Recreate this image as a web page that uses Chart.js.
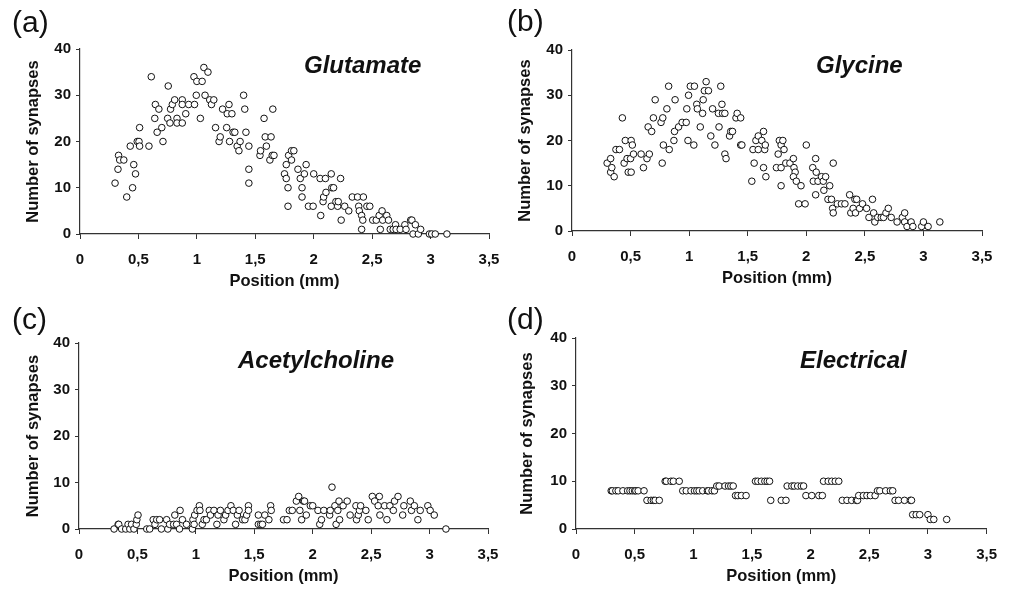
<!DOCTYPE html>
<html lang="en">
<head>
  <meta charset="utf-8">
  <title>Synapse counts along the cord</title>
  <script src="https://cdn.jsdelivr.net/npm/chart.js"></script>
  <style>
    body { margin: 0; background: #fff; }
    #wrap { position: relative; width: 1009px; height: 590px; }
    #wrap canvas { position: absolute; left: 0; top: 0; }
  </style>
</head>
<body>
<div id="wrap">
  <canvas id="chartA" width="1009" height="590"></canvas>
  <canvas id="chartB" width="1009" height="590"></canvas>
  <canvas id="chartC" width="1009" height="590"></canvas>
  <canvas id="chartD" width="1009" height="590"></canvas>
</div>

<script>
  // x = position (mm), y = number of synapses
  const glutamateX = [0.30,0.33,0.325,0.34,0.375,0.40,0.43,0.45,0.46,0.475,
    0.49,0.505,0.51,0.51,0.59,0.61,0.64,0.645,0.66,0.675,
    0.70,0.71,0.755,0.75,0.77,0.775,0.79,0.81,0.83,0.83,
    0.875,0.875,0.875,0.905,0.93,0.975,0.98,0.995,1.0,1.03,
    1.045,1.06,1.07,1.095,1.11,1.125,1.145,1.16,1.19,1.20,
    1.22,1.255,1.26,1.275,1.28,1.30,1.31,1.325,1.345,1.36,
    1.37,1.40,1.41,1.42,1.445,1.445,1.445,1.54,1.545,1.575,
    1.585,1.595,1.625,1.635,1.645,1.65,1.66,1.75,1.765,1.765,
    1.78,1.78,1.785,1.81,1.81,1.83,1.865,1.885,1.90,1.90,
    1.92,1.935,1.955,1.995,2.0,2.055,2.06,2.08,2.085,2.10,
    2.105,2.15,2.15,2.155,2.17,2.19,2.205,2.21,2.23,2.235,
    2.265,2.30,2.33,2.375,2.385,2.39,2.41,2.42,2.41,2.425,
    2.455,2.48,2.505,2.535,2.56,2.57,2.585,2.59,2.625,2.64,
    2.655,2.68,2.70,2.705,2.74,2.78,2.79,2.83,2.84,2.85,
    2.87,2.895,2.915,2.99,3.01,3.04,3.14];
  const glutamateY = [11,17,14,16,16,8,19,10,15,13,
    20,20,23,19,19,34,25,28,22,27,
    23,20,32,25,24,27,28,29,25,24,
    29,28,24,26,28,34,28,30,33,25,
    33,36,30,35,29,28,29,23,20,21,
    27,23,26,28,20,26,22,22,19,18,
    20,30,27,22,19,14,11,17,18,25,
    21,19,16,21,17,27,17,13,12,15,
    10,6,17,18,16,18,14,12,10,8,
    13,15,6,6,13,12,4,7,8,12,
    9,13,6,10,10,7,6,7,12,3,
    6,5,8,8,6,5,4,3,1,8,
    6,6,3,3,4,1,5,3,4,3,
    1,1,2,1,1,2,1,3,3,0,
    2,0,1,0,0,0,0];

  const glycineX = [0.30,0.33,0.33,0.34,0.36,0.375,0.405,0.43,0.445,0.455,
    0.47,0.48,0.50,0.505,0.505,0.515,0.525,0.59,0.61,0.64,
    0.65,0.66,0.68,0.695,0.71,0.76,0.77,0.775,0.78,0.81,
    0.825,0.83,0.87,0.875,0.88,0.91,0.94,0.975,0.98,0.99,
    0.995,1.01,1.04,1.045,1.065,1.07,1.095,1.115,1.12,1.13,
    1.145,1.165,1.185,1.20,1.22,1.25,1.255,1.27,1.28,1.285,
    1.305,1.315,1.305,1.345,1.355,1.37,1.40,1.41,1.44,1.44,
    1.45,1.535,1.545,1.555,1.57,1.59,1.59,1.62,1.635,1.635,
    1.645,1.65,1.655,1.745,1.76,1.77,1.785,1.785,1.785,1.80,
    1.81,1.825,1.86,1.89,1.895,1.905,1.89,1.915,1.935,1.955,
    1.99,2.0,2.055,2.06,2.08,2.085,2.08,2.10,2.13,2.145,
    2.15,2.165,2.185,2.20,2.215,2.225,2.23,2.23,2.265,2.30,
    2.33,2.37,2.38,2.40,2.415,2.42,2.43,2.455,2.48,2.515,
    2.535,2.565,2.575,2.585,2.61,2.64,2.66,2.68,2.70,2.725,
    2.775,2.82,2.84,2.84,2.86,2.895,2.91,2.985,3.0,3.04,
    3.14];
  const glycineY = [15,16,13,14,12,18,18,25,15,20,
    16,13,16,20,13,19,17,17,14,16,
    23,17,22,25,29,24,15,25,19,27,
    32,18,20,22,29,23,24,24,27,20,
    30,32,19,32,28,27,23,26,29,31,
    33,31,21,27,19,26,23,32,28,26,
    17,16,26,21,22,22,25,26,25,19,
    19,11,18,15,20,21,18,20,22,14,
    18,19,12,14,17,20,19,14,10,20,
    18,15,15,16,14,13,12,11,6,10,
    6,19,14,11,16,13,8,11,12,11,
    9,12,7,10,7,5,15,4,6,6,
    6,8,4,5,7,4,7,5,6,5,
    3,7,4,2,3,3,3,4,5,3,
    2,3,4,2,1,2,1,1,2,1,
    2];

  const acetylcholineX = [0.30,0.335,0.34,0.365,0.40,0.42,0.435,0.45,0.47,0.49,
    0.495,0.505,0.58,0.605,0.635,0.65,0.665,0.69,0.705,0.75,
    0.76,0.775,0.81,0.82,0.835,0.86,0.865,0.885,0.92,0.97,
    0.975,0.985,0.99,1.01,1.03,1.035,1.055,1.07,1.09,1.115,
    1.125,1.155,1.18,1.19,1.21,1.24,1.255,1.275,1.30,1.32,
    1.34,1.355,1.37,1.40,1.42,1.435,1.45,1.45,1.535,1.535,
    1.555,1.57,1.59,1.625,1.64,1.645,1.75,1.78,1.80,1.825,
    1.86,1.88,1.89,1.905,1.92,1.93,1.945,1.98,2.0,2.045,
    2.06,2.075,2.095,2.145,2.15,2.165,2.19,2.20,2.215,2.225,
    2.23,2.26,2.295,2.32,2.37,2.375,2.39,2.40,2.41,2.455,
    2.475,2.51,2.53,2.56,2.57,2.575,2.615,2.635,2.66,2.69,
    2.70,2.73,2.77,2.78,2.835,2.845,2.87,2.90,2.92,2.985,
    3.005,3.04,3.14];
  const acetylcholineY = [0,1,1,0,0,1,0,1,0,1,
    2,3,0,0,2,1,2,2,0,2,
    0,1,1,3,1,0,4,2,1,0,
    2,1,3,4,5,4,1,2,2,4,
    3,4,1,3,4,2,3,4,5,4,
    1,3,4,2,2,3,5,4,3,1,
    1,1,3,2,5,4,2,2,4,4,
    6,7,4,2,6,6,3,5,5,4,
    1,2,4,3,4,9,5,1,4,6,
    2,5,6,3,5,2,3,4,5,4,
    2,7,6,5,7,3,5,2,5,4,
    6,7,3,5,6,4,5,2,4,5,
    4,3,0];

  const electricalX = [0.30,0.31,0.34,0.36,0.40,0.44,0.46,0.48,0.50,0.51,0.53,0.58,
    0.605,0.64,0.66,0.675,0.71,
    0.76,0.77,0.81,0.83,0.88,
    0.91,0.94,0.98,1.01,1.03,1.05,1.08,1.12,1.13,1.16,1.18,
    1.20,1.22,1.27,1.30,1.32,1.34,
    1.36,1.38,1.41,1.45,
    1.53,1.55,1.58,1.61,1.63,1.65,
    1.66,1.75,1.79,
    1.80,1.84,1.86,1.89,1.92,1.94,
    1.96,2.01,2.07,2.10,
    2.11,2.15,2.18,2.21,2.24,
    2.27,2.31,2.35,2.39,2.40,
    2.41,2.45,2.48,2.51,2.55,
    2.57,2.59,2.64,2.68,2.70,
    2.72,2.75,2.80,2.85,2.86,
    2.87,2.90,2.93,3.00,
    3.02,3.05,3.16];
  const electricalY = [8,8,8,8,8,8,8,8,8,8,8,8,
    6,6,6,6,6,
    10,10,10,10,10,
    8,8,8,8,8,8,8,8,8,8,8,
    9,9,9,9,9,9,
    7,7,7,7,
    10,10,10,10,10,10,
    6,6,6,
    9,9,9,9,9,9,
    7,7,7,7,
    10,10,10,10,10,
    6,6,6,6,6,
    7,7,7,7,7,
    8,8,8,8,8,
    6,6,6,6,6,
    3,3,3,3,
    2,2,2];

  const xTickLabels = ['0', '0,5', '1', '1,5', '2', '2,5', '3', '3,5'];
  const yTickLabels = ['0', '10', '20', '30', '40'];

  const FONT = '"Liberation Sans", Arial, Helvetica, sans-serif';
  const INK = '#111';
  const AXIS = '#333';
  Chart.defaults.font.family = FONT;
  Chart.defaults.color = INK;

  // draws the panel letter and the transmitter name
  const panelText = {
    id: 'panelText',
    afterDraw(chart, args, opts) {
      const ctx = chart.ctx;
      ctx.save();
      ctx.fillStyle = INK;
      ctx.textBaseline = 'alphabetic';
      ctx.textAlign = 'left';
      ctx.font = '30px ' + FONT;
      ctx.fillText(opts.letter, opts.letterX, opts.letterY);
      ctx.font = 'italic bold 24px ' + FONT;
      ctx.fillText(opts.name, opts.nameX, opts.nameY);
      ctx.restore();
    }
  };

  function makePanel(id, xs, ys, area, text) {
    const yW = 60, xH = 57;
    const titleSize = 16.5;
    new Chart(document.getElementById(id), {
      type: 'scatter',
      data: {
        datasets: [{
          data: xs.map((x, i) => ({ x: x, y: ys[i] })),
          pointRadius: 3.3,
          pointHoverRadius: 3.3,
          pointBorderWidth: 1,
          borderColor: '#111',
          backgroundColor: '#fff',
          clip: false
        }]
      },
      options: {
        responsive: false,
        animation: false,
        events: [],
        layout: {
          padding: {
            left: area.left - yW,
            right: 1009 - area.right,
            top: area.top,
            bottom: 590 - area.bottom - xH
          }
        },
        plugins: {
          legend: { display: false },
          tooltip: { enabled: false },
          panelText: text
        },
        scales: {
          x: {
            type: 'linear',
            min: 0,
            max: 3.5,
            afterFit(s) { s.height = xH; },
            ticks: {
              stepSize: 0.5,
              padding: 12,
              maxRotation: 0,
              font: { size: 15, weight: 'bold' },
              callback: (v, i) => xTickLabels[i]
            },
            grid: { drawOnChartArea: false, tickLength: 5, color: AXIS },
            border: { color: AXIS, width: 1.2 },
            title: {
              display: true,
              text: 'Position (mm)',
              font: { size: titleSize, weight: 'bold' },
              padding: { top: 0, bottom: 0 }
            }
          },
          y: {
            min: 0,
            max: 40,
            afterFit(s) { s.width = yW; },
            ticks: {
              stepSize: 10,
              padding: 5,
              font: { size: 15, weight: 'bold' },
              callback: (v, i) => yTickLabels[i]
            },
            grid: { drawOnChartArea: false, tickLength: 4, color: AXIS },
            border: { color: AXIS, width: 1.2 },
            title: {
              display: true,
              text: 'Number of synapses',
              font: { size: titleSize, weight: 'bold' },
              padding: { top: text.yTitleX - (area.left - yW) - titleSize * 0.6, bottom: 0 }
            }
          }
        }
      },
      plugins: [panelText]
    });
  }

  makePanel('chartA', glutamateX, glutamateY,
    { left: 80, right: 489, top: 49, bottom: 234 },
    { letter: '(a)', letterX: 12, letterY: 32, name: 'Glutamate', nameX: 304, nameY: 73, yTitleX: 33 });
  makePanel('chartB', glycineX, glycineY,
    { left: 572, right: 982, top: 50, bottom: 231 },
    { letter: '(b)', letterX: 507, letterY: 31, name: 'Glycine', nameX: 816, nameY: 73, yTitleX: 525 });
  makePanel('chartC', acetylcholineX, acetylcholineY,
    { left: 79, right: 488, top: 343, bottom: 529 },
    { letter: '(c)', letterX: 12, letterY: 329, name: 'Acetylcholine', nameX: 238, nameY: 368, yTitleX: 33 });
  makePanel('chartD', electricalX, electricalY,
    { left: 576, right: 990, top: 338, bottom: 529 },
    { letter: '(d)', letterX: 507, letterY: 329, name: 'Electrical', nameX: 800, nameY: 368, yTitleX: 527 });
</script>
</body>
</html>
